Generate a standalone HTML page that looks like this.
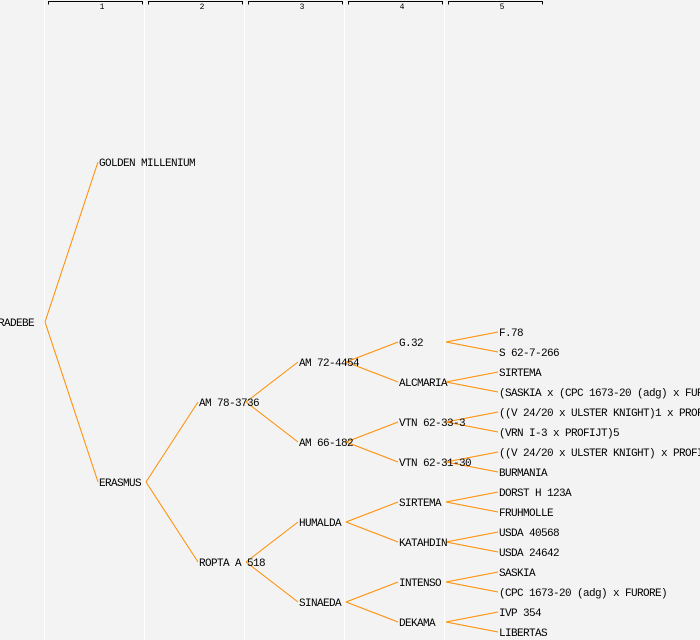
<!DOCTYPE html>
<html><head><meta charset="utf-8"><style>
html,body{margin:0;padding:0;background:#f3f3f3;}
svg{display:block;}
text{font-family:"Liberation Mono","DejaVu Sans Mono",monospace;font-size:11px;letter-spacing:-0.6px;fill:#000;}
</style></head><body>
<svg width="700" height="640" viewBox="0 0 700 640" xmlns="http://www.w3.org/2000/svg">
<rect width="700" height="640" fill="#f3f3f3"/>
<g stroke="#ffffff" stroke-width="1">
<line x1="44.5" y1="0" x2="44.5" y2="640"/>
<line x1="144.5" y1="0" x2="144.5" y2="640"/>
<line x1="244.5" y1="0" x2="244.5" y2="640"/>
<line x1="344.5" y1="0" x2="344.5" y2="640"/>
<line x1="444.5" y1="0" x2="444.5" y2="640"/>
</g>
<g stroke="#000" stroke-width="1" fill="none">
<path d="M48.5 4.5V1.5H142.5V4.5"/>
<path d="M148.5 4.5V1.5H242.5V4.5"/>
<path d="M248.5 4.5V1.5H342.5V4.5"/>
<path d="M348.5 4.5V1.5H442.5V4.5"/>
<path d="M448.5 4.5V1.5H542.5V4.5"/>
</g>
<g text-anchor="middle">
<text x="102" y="9" style="font-size:8px;letter-spacing:0">1</text>
<text x="202" y="9" style="font-size:8px;letter-spacing:0">2</text>
<text x="302" y="9" style="font-size:8px;letter-spacing:0">3</text>
<text x="402" y="9" style="font-size:8px;letter-spacing:0">4</text>
<text x="502" y="9" style="font-size:8px;letter-spacing:0">5</text>
</g>
<g stroke="#ff8c00" stroke-width="1" fill="none">
<path d="M45 322L98 162M45 322L98 482"/>
<path d="M146 482L198 402M146 482L198 562"/>
<path d="M246 402L298 362M246 402L298 442M246 562L298 522M246 562L298 602"/>
<path d="M346 362L398 342M346 362L398 382M346 442L398 422M346 442L398 462M346 522L398 502M346 522L398 542M346 602L398 582M346 602L398 622"/>
<path d="M446 342L498 332M446 342L498 352M446 382L498 372M446 382L498 392M446 422L498 412M446 422L498 432M446 462L498 452M446 462L498 472M446 502L498 492M446 502L498 512M446 542L498 532M446 542L498 552M446 582L498 572M446 582L498 592M446 622L498 612M446 622L498 632"/>
</g>
<g>
<text x="-2" y="326">RADEBE</text>
<text x="99" y="166">GOLDEN MILLENIUM</text>
<text x="99" y="486">ERASMUS</text>
<text x="199" y="406">AM 78-3736</text>
<text x="199" y="566">ROPTA A 518</text>
<text x="299" y="366">AM 72-4454</text>
<text x="299" y="446">AM 66-182</text>
<text x="299" y="526">HUMALDA</text>
<text x="299" y="606">SINAEDA</text>
<text x="399" y="346">G.32</text>
<text x="399" y="386">ALCMARIA</text>
<text x="399" y="426">VTN 62-33-3</text>
<text x="399" y="466">VTN 62-31-30</text>
<text x="399" y="506">SIRTEMA</text>
<text x="399" y="546">KATAHDIN</text>
<text x="399" y="586">INTENSO</text>
<text x="399" y="626">DEKAMA</text>
<text x="499" y="336">F.78</text>
<text x="499" y="356">S 62-7-266</text>
<text x="499" y="376">SIRTEMA</text>
<text x="499" y="396">(SASKIA x (CPC 1673-20 (adg) x FURORE))</text>
<text x="499" y="416">((V 24/20 x ULSTER KNIGHT)1 x PROFIJT)</text>
<text x="499" y="436">(VRN I-3 x PROFIJT)5</text>
<text x="499" y="456">((V 24/20 x ULSTER KNIGHT) x PROFIJT)</text>
<text x="499" y="476">BURMANIA</text>
<text x="499" y="496">DORST H 123A</text>
<text x="499" y="516">FRUHMOLLE</text>
<text x="499" y="536">USDA 40568</text>
<text x="499" y="556">USDA 24642</text>
<text x="499" y="576">SASKIA</text>
<text x="499" y="596">(CPC 1673-20 (adg) x FURORE)</text>
<text x="499" y="616">IVP 354</text>
<text x="499" y="636">LIBERTAS</text>
</g>
</svg>
</body></html>
